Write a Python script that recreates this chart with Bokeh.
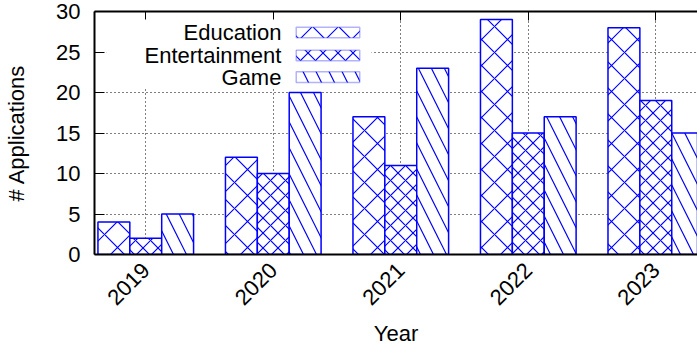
import math
import numpy as np
from bokeh.plotting import figure
from bokeh.models import (FixedTicker, LinearAxis, Range1d, BoxAnnotation, Label)
from bokeh.embed import file_html
from bokeh.resources import INLINE

# ---- data ----
years = ["2019", "2020", "2021", "2022", "2023"]
categories = ["Education", "Entertainment", "Game"]
education = [4, 12, 17, 29, 28]
entertainment = [2, 10, 11, 15, 19]
game = [5, 20, 23, 17, 15]
y_ticks = [0, 5, 10, 15, 20, 25, 30]
y_grid = [5, 10, 15, 20, 25]

series = [education, entertainment, game]

# ---- style ----
FONT = "Liberation Sans"
FS = "22px"
BLUE = "#0000ff"
BAR_W = 0.25
hatch = [("diagonal_cross", 26), ("diagonal_cross", 15), ("left_diagonal_line", 26)]

p = figure(width=697, height=350, output_backend="svg", toolbar_location=None,
           x_range=Range1d(-0.402, 4.327), y_range=Range1d(0, 30),
           min_border_left=94, min_border_right=0, min_border_top=11,
           min_border_bottom=96, outline_line_color=None)
p.background_fill_color = "white"

idx = np.arange(len(years))
for j, (vals, (pat, sc)) in enumerate(zip(series, hatch)):
    p.vbar(x=idx + (j - 1) * BAR_W, top=vals, width=BAR_W, bottom=0,
           fill_color="white", line_color=BLUE, line_width=1.5,
           hatch_pattern=pat, hatch_scale=sc, hatch_color=BLUE, hatch_weight=1.2)

# grids
p.xgrid.ticker = FixedTicker(ticks=list(idx))
p.ygrid.ticker = FixedTicker(ticks=y_grid)
for g in (p.xgrid, p.ygrid):
    g.grid_line_color = "black"
    g.grid_line_dash = "1 3"
    g.grid_line_width = 1

# axes
xa = p.xaxis[0]
xa.ticker = FixedTicker(ticks=list(idx))
xa.major_label_overrides = {int(i): y for i, y in enumerate(years)}
xa.major_label_orientation = math.pi / 4
xa.major_tick_in = 0
xa.major_tick_out = 0
xa.minor_tick_line_color = None
xa.axis_line_width = 2
xa.axis_line_color = "black"
xa.major_label_text_font = FONT
xa.major_label_text_font_size = FS
xa.major_label_text_color = "black"
xa.major_label_standoff = 12
xa.axis_label = "Year"
xa.axis_label_text_font = FONT
xa.axis_label_text_font_size = FS
xa.axis_label_text_font_style = "normal"
xa.axis_label_text_color = "black"
xa.axis_label_standoff = 6

ya = p.yaxis[0]
ya.ticker = FixedTicker(ticks=y_ticks)
ya.major_tick_in = 10
ya.major_tick_out = 0
ya.minor_tick_line_color = None
ya.axis_line_width = 2
ya.axis_line_color = "black"
ya.major_label_text_font = FONT
ya.major_label_text_font_size = FS
ya.major_label_text_color = "black"
ya.major_label_standoff = 14
ya.axis_label = "# Applications"
ya.axis_label_text_font = FONT
ya.axis_label_text_font_size = FS
ya.axis_label_text_font_style = "normal"
ya.axis_label_text_color = "black"
ya.axis_label_standoff = 24

top = LinearAxis(ticker=FixedTicker(ticks=list(idx)), major_tick_in=9, major_tick_out=0,
                 minor_tick_line_color=None, axis_line_width=2, axis_line_color="black",
                 major_label_text_alpha=0, major_label_text_font_size="1px",
                 major_label_standoff=0)
p.add_layout(top, "above")

# ---- legend (opaque key, label left of sample) ----
key_bg = BoxAnnotation(left=-0.31, right=1.77, top=29.0, bottom=20.5,
                       fill_color="white", fill_alpha=1, line_color=None)
p.add_layout(key_bg)
row_y = [27.41, 24.57, 21.91]
for name, yc, (pat, sc) in zip(categories, row_y, hatch):
    p.add_layout(BoxAnnotation(left=1.18, right=1.678, top=yc + 0.66, bottom=yc - 0.66,
                               fill_color="white", fill_alpha=1, line_color=BLUE,
                               line_width=1.5, hatch_pattern=pat, hatch_scale=sc,
                               hatch_color=BLUE, hatch_weight=1.2))
    p.add_layout(Label(x=1.064, y=yc, text=name, text_align="right",
                       text_baseline="middle", text_font=FONT, text_font_size=FS,
                       text_color="black"))

open("out.html", "w").write(file_html(p, INLINE))
